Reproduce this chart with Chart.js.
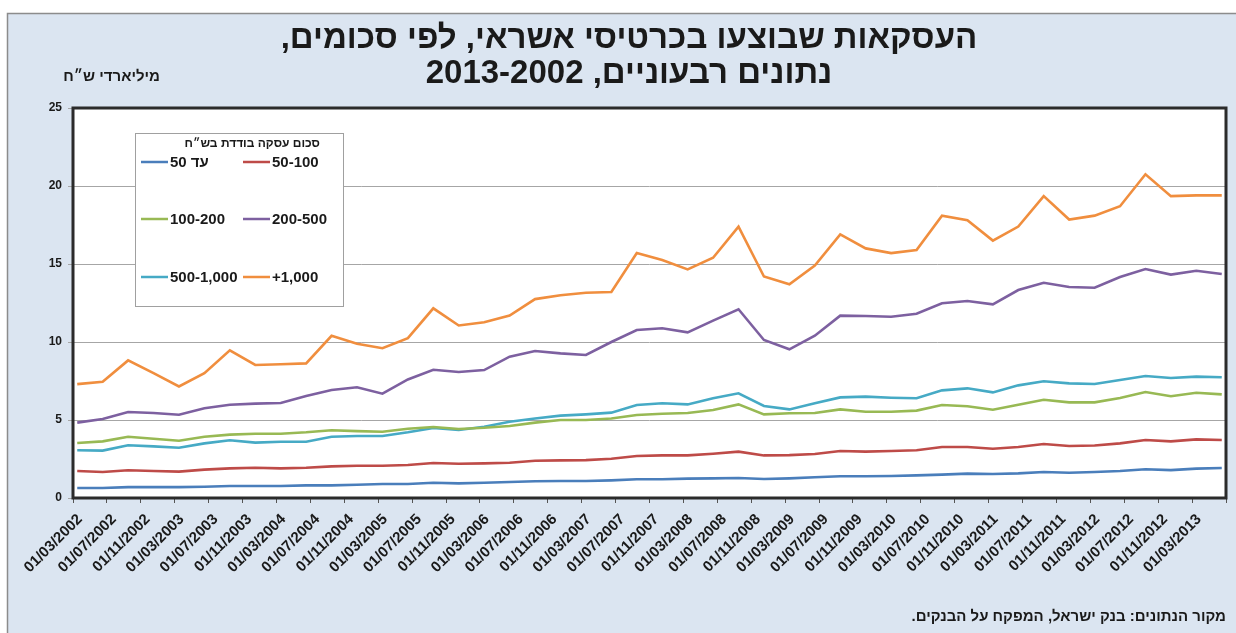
<!DOCTYPE html>
<html lang="he">
<head>
<meta charset="utf-8">
<script src="https://cdn.jsdelivr.net/npm/chart.js@4.4.1/dist/chart.umd.min.js"></script>
<style>
html, body { margin: 0; padding: 0; background: #fff; }
canvas { display: block; }
</style>
</head>
<body>
<canvas id="cardsChart" width="1236" height="633"></canvas>
<script>
// quarterly observations (month/year)
const quarters = [
  "03/2002","06/2002","09/2002","12/2002","03/2003","06/2003","09/2003","12/2003",
  "03/2004","06/2004","09/2004","12/2004","03/2005","06/2005","09/2005","12/2005",
  "03/2006","06/2006","09/2006","12/2006","03/2007","06/2007","09/2007","12/2007",
  "03/2008","06/2008","09/2008","12/2008","03/2009","06/2009","09/2009","12/2009",
  "03/2010","06/2010","09/2010","12/2010","03/2011","06/2011","09/2011","12/2011",
  "03/2012","06/2012","09/2012","12/2012","03/2013","06/2013"
];

const tickLabels = [
  "01/03/2002","01/07/2002","01/11/2002","01/03/2003","01/07/2003","01/11/2003",
  "01/03/2004","01/07/2004","01/11/2004","01/03/2005","01/07/2005","01/11/2005",
  "01/03/2006","01/07/2006","01/11/2006","01/03/2007","01/07/2007","01/11/2007",
  "01/03/2008","01/07/2008","01/11/2008","01/03/2009","01/07/2009","01/11/2009",
  "01/03/2010","01/07/2010","01/11/2010","01/03/2011","01/07/2011","01/11/2011",
  "01/03/2012","01/07/2012","01/11/2012","01/03/2013"
];

const seriesNames = ["עד 50", "50-100", "100-200", "200-500", "500-1,000", "+1,000"];
const seriesColors = ["#4a7ebb", "#be4b48", "#98b954", "#7d60a0", "#46aac5", "#f08e3e"];

// billions NIS
const upTo50 = [0.64,0.64,0.70,0.70,0.70,0.72,0.77,0.77,0.77,0.81,0.81,0.85,0.90,0.90,0.98,0.94,
  0.98,1.03,1.07,1.09,1.09,1.13,1.20,1.20,1.24,1.26,1.28,1.22,1.26,1.33,1.39,
  1.39,1.41,1.45,1.50,1.56,1.54,1.58,1.67,1.62,1.67,1.73,1.84,1.79,1.88,1.92];
const from50to100 = [1.73,1.67,1.78,1.73,1.69,1.82,1.90,1.94,1.90,1.94,2.03,2.07,2.07,2.12,2.24,2.20,
  2.22,2.26,2.39,2.41,2.43,2.52,2.69,2.73,2.73,2.84,2.97,2.73,2.75,2.82,3.01,
  2.97,3.01,3.06,3.27,3.27,3.16,3.27,3.46,3.33,3.37,3.50,3.72,3.63,3.76,3.72];
const from100to200 = [3.53,3.63,3.93,3.80,3.67,3.93,4.06,4.12,4.12,4.21,4.34,4.29,4.25,4.44,4.55,4.42,
  4.50,4.62,4.83,5.00,5.00,5.10,5.32,5.40,5.45,5.64,6.00,5.36,5.43,5.45,5.68,
  5.53,5.53,5.60,5.96,5.88,5.66,5.98,6.30,6.13,6.13,6.41,6.79,6.52,6.75,6.64];
const from200to500 = [4.83,5.06,5.51,5.45,5.34,5.75,5.98,6.05,6.09,6.54,6.92,7.10,6.69,7.60,8.22,8.08,
  8.20,9.06,9.42,9.27,9.17,10.00,10.77,10.88,10.62,11.37,12.10,10.13,9.53,10.40,11.69,
  11.67,11.62,11.81,12.48,12.63,12.41,13.33,13.80,13.53,13.48,14.17,14.68,14.32,14.57,14.36];
const from500to1000 = [3.06,3.04,3.38,3.31,3.22,3.50,3.70,3.55,3.61,3.61,3.93,3.97,3.97,4.21,4.49,4.36,
  4.57,4.89,5.10,5.28,5.36,5.47,5.96,6.07,6.00,6.39,6.71,5.90,5.68,6.07,6.45,
  6.50,6.43,6.39,6.90,7.03,6.77,7.22,7.48,7.35,7.31,7.56,7.82,7.69,7.78,7.74];
const over1000 = [7.30,7.45,8.82,8.00,7.15,8.00,9.47,8.53,8.57,8.63,10.40,9.89,9.60,10.25,12.16,11.06,
  11.26,11.70,12.75,13.00,13.16,13.20,15.70,15.25,14.65,15.40,17.40,14.20,13.70,14.90,16.90,
  16.00,15.70,15.90,18.10,17.80,16.50,17.40,19.35,17.85,18.10,18.70,20.75,19.35,19.40,19.40];

const seriesValues = [upTo50, from50to100, from100to200, from200to500, from500to1000, over1000];

const FONT = '"Liberation Sans", "DejaVu Sans", Arial, sans-serif';

// months since 03/2002, centred in the month
function monthPos(q) {
  const [m, y] = q.split('/').map(Number);
  return (y - 2002) * 12 + (m - 3) + 0.5;
}

function isHebrew(s) { return /[\u0590-\u05FF]/.test(s); }

const decor = {
  id: 'decor',
  beforeDraw(chart) {
    const { ctx, width, height, chartArea: a } = chart;
    ctx.save();
    ctx.fillStyle = '#fff';
    ctx.fillRect(0, 0, width, height);
    ctx.fillStyle = '#dbe5f1';
    ctx.fillRect(7, 13, width - 7, height - 13);
    ctx.strokeStyle = '#8c8c8c';
    ctx.lineWidth = 1.5;
    ctx.beginPath();
    ctx.moveTo(7.5, height); ctx.lineTo(7.5, 13.5); ctx.lineTo(width, 13.5);
    ctx.stroke();
    ctx.fillStyle = '#fff';
    ctx.fillRect(a.left, a.top, a.right - a.left, a.bottom - a.top);

    ctx.fillStyle = '#1a1a1a';
    ctx.direction = 'rtl';
    ctx.textBaseline = 'middle';
    ctx.textAlign = 'center';
    ctx.font = 'bold 33px ' + FONT;
    ctx.fillText('העסקאות שבוצעו בכרטיסי אשראי, לפי סכומים,', 629, 39);
    ctx.fillText('נתונים רבעוניים, 2013-2002', 629, 74);

    ctx.textAlign = 'right';
    ctx.font = 'bold 15px ' + FONT;
    ctx.fillText('מיליארדי ש״ח', 160, 77);

    ctx.fillText('מקור הנתונים: בנק ישראל, המפקח על הבנקים.', 1226, 617);
    ctx.restore();
  },
  afterDraw(chart) {
    const { ctx, chartArea: a } = chart;
    ctx.save();
    // plot frame
    ctx.strokeStyle = '#2b2b2b';
    ctx.lineWidth = 3;
    ctx.strokeRect(a.left, a.top, a.right - a.left, a.bottom - a.top);

    // rotated date labels, taken from the x scale ticks
    const xs = chart.scales.x;
    ctx.fillStyle = '#1a1a1a';
    ctx.font = 'bold 15px ' + FONT;
    ctx.direction = 'ltr';
    ctx.textAlign = 'right';
    ctx.textBaseline = 'middle';
    xs.ticks.forEach(t => {
      if (!t.label) return;
      const px = xs.getPixelForValue(t.value);
      ctx.save();
      ctx.translate(px + 7, a.bottom + 19);
      ctx.rotate(-Math.PI / 4);
      ctx.fillText(t.label, 0, 0);
      ctx.restore();
    });

    // legend box
    const bx = 135, by = 133, bw = 208, bh = 173;
    ctx.fillStyle = '#fff';
    ctx.fillRect(bx, by, bw, bh);
    ctx.strokeStyle = '#a0a0a0';
    ctx.lineWidth = 1;
    ctx.strokeRect(bx + 0.5, by + 0.5, bw, bh);

    ctx.fillStyle = '#1a1a1a';
    ctx.direction = 'rtl';
    ctx.textAlign = 'right';
    ctx.font = 'bold 12px ' + FONT;
    ctx.fillText('סכום עסקה בודדת בש״ח', 320, 144);

    const rows = [162, 219, 277];
    const cols = [141, 243];
    chart.data.datasets.forEach((ds, i) => {
      const x = cols[i % 2], y = rows[Math.floor(i / 2)];
      ctx.strokeStyle = ds.borderColor;
      ctx.lineWidth = 2.5;
      ctx.beginPath();
      ctx.moveTo(x, y); ctx.lineTo(x + 27, y);
      ctx.stroke();
      ctx.direction = isHebrew(ds.label) ? 'rtl' : 'ltr';
      ctx.textAlign = 'left';
      ctx.font = 'bold 15px ' + FONT;
      ctx.fillStyle = '#1a1a1a';
      ctx.fillText(ds.label, x + 29, y + 1);
    });
    ctx.restore();
  }
};

const ctx = document.getElementById('cardsChart').getContext('2d');
const datasets = seriesNames.map((name, i) => ({
  label: name,
  data: quarters.map((q, j) => ({ x: monthPos(q), y: seriesValues[i][j] })),
  borderColor: seriesColors[i],
  backgroundColor: seriesColors[i],
  borderWidth: 2.6,
  pointRadius: 0,
  tension: 0
}));

new Chart(ctx, {
  type: 'line',
  data: { datasets: datasets },
  options: {
    responsive: false,
    animation: false,
    layout: { padding: { left: 20, right: 10, top: 108, bottom: 0 } },
    plugins: {
      legend: { display: false },
      title: { display: false },
      tooltip: { enabled: false }
    },
    scales: {
      x: {
        type: 'linear',
        min: 0,
        max: 136,
        afterFit: s => { s.height = 135; },
        border: { display: false },
        grid: { drawOnChartArea: false, drawTicks: true, tickLength: 5, color: '#555' },
        ticks: {
          display: false,
          stepSize: 4,
          maxTicksLimit: 40,
          autoSkip: false,
          callback: v => tickLabels[v / 4] || ''
        }
      },
      y: {
        min: 0,
        max: 25,
        afterFit: s => { s.width = 53; },
        border: { display: false },
        grid: { color: '#a6a6a6', lineWidth: 1, tickLength: 5 },
        ticks: {
          stepSize: 5,
          padding: 6,
          color: '#1a1a1a',
          font: { family: FONT, size: 12, weight: 'bold' }
        }
      }
    }
  },
  plugins: [decor]
});
</script>
</body>
</html>
